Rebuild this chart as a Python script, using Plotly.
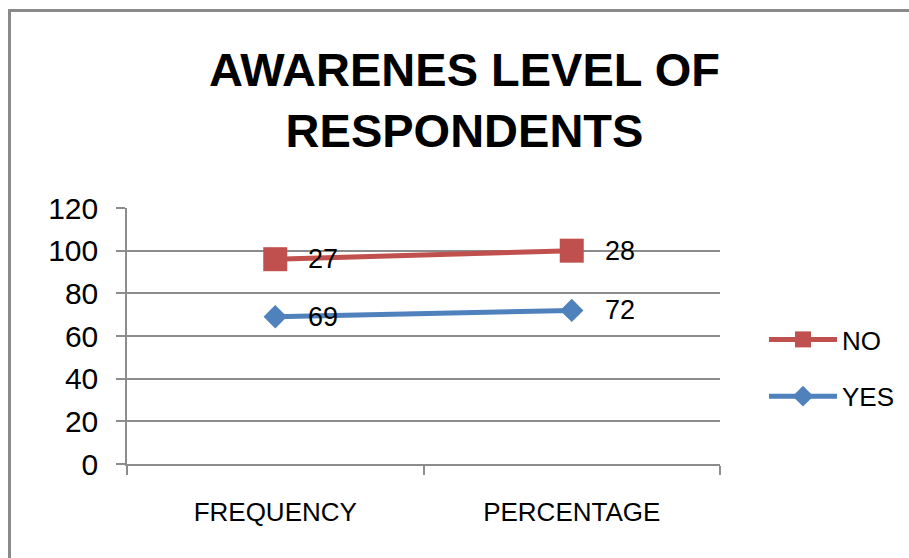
import numpy as np
import plotly.graph_objects as go

# Categories and series values (stacked line chart: NO sits on top of YES)
categories = ["FREQUENCY", "PERCENTAGE"]
yes_values = [69, 72]
no_values = [27, 28]
y_ticks = [0, 20, 40, 60, 80, 100, 120]

yes_arr = np.array(yes_values)
no_stacked = yes_arr + np.array(no_values)

RED = "#C0504D"
BLUE = "#4F81BD"
GRID = "#8C8C8C"
FONT = "Liberation Sans, Arial, sans-serif"

fig = go.Figure()
fig.add_trace(go.Scatter(
    x=categories, y=yes_arr, name="YES", mode="lines+markers",
    legendgroup="yes", legendrank=2,
    line=dict(color=BLUE, width=5),
    marker=dict(symbol="diamond", size=18, color=BLUE),
))
fig.add_trace(go.Scatter(
    x=categories, y=no_stacked, name="NO", mode="lines+markers",
    legendgroup="no", legendrank=1,
    line=dict(color=RED, width=5),
    marker=dict(symbol="square", size=24, color=RED),
))

# Data labels to the right of each point, showing the series' own value
annotations = []
for cat, ystack, val in zip(categories, yes_arr, yes_values):
    annotations.append(dict(x=cat, y=ystack, text=str(val), showarrow=False,
                            xanchor="left", yanchor="middle", xshift=31,
                            font=dict(family=FONT, size=27, color="#000")))
for cat, ystack, val in zip(categories, no_stacked, no_values):
    annotations.append(dict(x=cat, y=ystack, text=str(val), showarrow=False,
                            xanchor="left", yanchor="middle", xshift=31,
                            font=dict(family=FONT, size=27, color="#000")))

# Outer chart frame (left and top edges visible)
pw, ph = 593.0, 256.0
x0 = (9.5 - 127) / pw
y1 = (464 - 10.5) / ph
shapes = [
    dict(type="rect", xref="paper", yref="paper",
         x0=x0, x1=(930 - 127) / pw, y0=(464 - 600) / ph, y1=y1,
         line=dict(color="#8A8A8A", width=3), layer="below"),
]

fig.update_layout(
    width=909, height=558,
    margin=dict(l=127, r=189, t=208, b=94, autoexpand=False),
    paper_bgcolor="white", plot_bgcolor="white",
    title=dict(text="<b>AWARENES LEVEL OF<br>RESPONDENTS</b>",
               x=464.5 / 909, xanchor="center",
               y=1 - 86 / 558, yanchor="top", yref="container",
               font=dict(family=FONT, size=47, color="#000")),
    xaxis=dict(type="category", tickson="boundaries", ticks="outside",
               ticklen=9, tickcolor=GRID, tickwidth=1.5,
               showline=True, linecolor=GRID, linewidth=1.5,
               showgrid=False, range=[-0.5, 1.5],
               ticklabelstandoff=24,
               tickfont=dict(family=FONT, size=26, color="#000")),
    yaxis=dict(range=[0, 120], tickvals=y_ticks, ticks="outside",
               ticklen=9, tickcolor=GRID, tickwidth=1.5,
               showline=True, linecolor=GRID, linewidth=1.5,
               showgrid=True, gridcolor=GRID, gridwidth=1.5,
               zeroline=False, ticklabelstandoff=12,
               tickfont=dict(family=FONT, size=30, color="#000")),
    legend=dict(x=(764 - 127) / pw, xanchor="left",
                y=(464 - 316) / ph, yanchor="top",
                traceorder="grouped", itemwidth=68,
                tracegroupgap=20,
                font=dict(family=FONT, size=26, color="#000"),
                bgcolor="rgba(0,0,0,0)"),
    annotations=annotations,
    shapes=shapes,
    showlegend=True,
)

fig.write_html("out.html")
